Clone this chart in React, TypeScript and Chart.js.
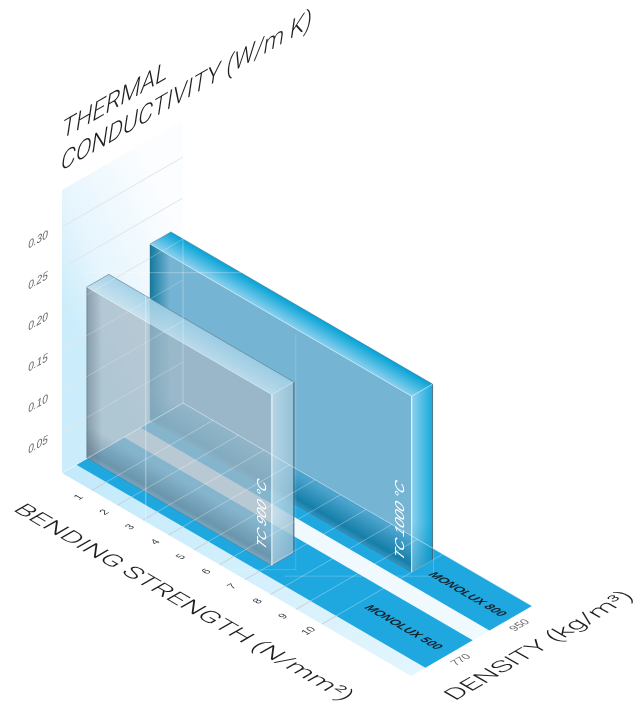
import React, { useEffect, useRef } from "react";
import { Chart, registerables } from "chart.js";

Chart.register(...registerables);

// ---- values ----
const bendingTicks = [1, 2, 3, 4, 5, 6, 7, 8, 9, 10];
const conductivityTicks = [0.05, 0.1, 0.15, 0.2, 0.25, 0.3];
const conductivityLabels = ["0.05", "0.10", "0.15", "0.20", "0.25", "0.30"];
const densityTicks = [770, 950];
const materialNames = ["MONOLUX 500", "MONOLUX 800"];
const stripFrom = [701, 888];
const stripTo = [839, 1012];
const slabNames = ["TC 900 °C", "TC 1000 °C"];
const slabDensityFront = [733, 921];
const slabDensityBack = [797, 982];
const slabBendingStart = [-0.19, -0.24];
const slabBendingEnd = [7.05, 10];
const slabConductivity = [0.2085, 0.2146];

const BEND_MIN = -0.17;
const BEND_MAX = 13.49;
const RHO_MIN = 659;
const RHO_MAX = 1012;
const TC_MAX = 0.345;

type P = { x: number; y: number };

// oblique projection of (bending, density, conductivity) on the page plane
function project(b: number, rho: number, k: number): P {
  const a = (b - BEND_MIN) / (BEND_MAX - BEND_MIN);
  const d = (rho - RHO_MIN) / (RHO_MAX - RHO_MIN);
  return { x: 62 + a * 349 + d * 121, y: 473 + a * 203 - d * 70 - k * 820 };
}

const SANS = '"Liberation Sans", Arial, sans-serif';
const LIGHT = 'Roboto, "Liberation Sans", sans-serif';

type Plane = [number, number, number, number];
const WALL: Plane = [0.866, -0.5, 0, 1];
const FLOOR_RISE: Plane = [0.866, -0.5, 0.866, 0.5];
const FLOOR_FALL: Plane = [0.866, 0.5, -0.866, 0.5];
const FACE: Plane = [0, -1, 0.866, 0.5];

function planeText(
  ctx: CanvasRenderingContext2D,
  text: string,
  x: number,
  y: number,
  plane: Plane,
  font: string,
  color: string,
  opts: { center?: boolean; len?: number } = {}
) {
  ctx.save();
  ctx.translate(x, y);
  ctx.transform(plane[0], plane[1], plane[2], plane[3], 0, 0);
  ctx.font = font;
  ctx.fillStyle = color;
  ctx.textAlign = opts.center ? "center" : "left";
  ctx.textBaseline = opts.center ? "middle" : "alphabetic";
  if (opts.len) ctx.scale(opts.len / ctx.measureText(text).width, 1);
  ctx.fillText(text, 0, 0);
  ctx.restore();
}

const labelsPlugin = {
  id: "planeLabels",
  afterDatasetsDraw(chart: any) {
    const ctx = chart.ctx as CanvasRenderingContext2D;
    conductivityTicks.forEach((k, i) => {
      const p = project(BEND_MIN, RHO_MIN, k);
      planeText(ctx, conductivityLabels[i], p.x - 24, p.y + 13, WALL, `italic 400 11.5px ${SANS}`, "#5c6166", { center: true });
    });
    bendingTicks.forEach((b) => {
      const p = project(b, RHO_MIN, 0);
      planeText(ctx, String(b), p.x - 13, p.y + 7, FLOOR_RISE, `400 10.5px ${SANS}`, "#3c4044", { center: true });
    });
    densityTicks.forEach((r, i) => {
      const p = project(BEND_MAX, r, 0);
      planeText(ctx, String(r), p.x + (i ? 9 : 12), p.y + (i ? 7 : 6), FLOOR_RISE, `400 11px ${SANS}`, "#62666a", { center: true });
    });
    materialNames.forEach((name, i) => {
      planeText(ctx, name, i ? 428 : 364, i ? 575 : 608, FLOOR_FALL, `italic 700 11.5px ${SANS}`, "#15202a", { len: 84 });
    });
    slabNames.forEach((name, i) => {
      const p = project(slabBendingEnd[i], slabDensityFront[i], 0);
      planeText(ctx, name, p.x + (i ? -8 : -6), p.y + (i ? -11 : -15), FACE, `italic 400 15px ${SANS}`, "#ffffff", { len: i ? 77 : 68 });
    });
    planeText(ctx, "THERMAL", 62, 139, WALL, `italic 300 25px ${LIGHT}`, "#1e1e20", { len: 122 });
    planeText(ctx, "CONDUCTIVITY (W/m K)", 61, 171, WALL, `italic 300 25px ${LIGHT}`, "#1e1e20", { len: 290 });
    planeText(ctx, "BENDING STRENGTH (N/mm²)", 12, 510, FLOOR_FALL, `300 22px ${LIGHT}`, "#1e1e20", { len: 383 });
    planeText(ctx, "DENSITY (kg/m³)", 455, 701, FLOOR_RISE, `300 22px ${LIGHT}`, "#1e1e20", { len: 208 });
  },
};

export default function App() {
  const ref = useRef<HTMLCanvasElement>(null);

  useEffect(() => {
    const canvas = ref.current!;
    const ctx = canvas.getContext("2d")!;
    document.body.style.margin = "0";

    const grad = (p0: P, p1: P, stops: [number, string][]) => {
      const g = ctx.createLinearGradient(p0.x, p0.y, p1.x, p1.y);
      stops.forEach(([o, c]) => g.addColorStop(o, c));
      return g;
    };

    const layers: any[] = [];
    const poly = (pts: P[], fill: any, stroke?: string, width = 1) =>
      layers.push({
        data: [...pts, pts[0]],
        showLine: true,
        fill: "shape",
        backgroundColor: fill,
        borderColor: stroke ?? "rgba(0,0,0,0)",
        borderWidth: stroke ? width : 0,
        pointRadius: 0,
        tension: 0,
        clip: false,
      });
    const line = (pts: P[], color: string, width = 1) =>
      layers.push({
        data: pts,
        showLine: true,
        fill: false,
        borderColor: color,
        borderWidth: width,
        pointRadius: 0,
        tension: 0,
        clip: false,
      });

    // back wall
    const wA = project(BEND_MIN, RHO_MIN, 0);
    const wB = project(BEND_MIN, RHO_MAX, 0);
    poly(
      [wA, wB, project(BEND_MIN, RHO_MAX, TC_MAX + 0.0), project(BEND_MIN, RHO_MIN, TC_MAX)],
      grad({ x: wA.x, y: 300 }, { x: wB.x, y: 240 }, [
        [0, "#cbedfb"],
        [0.35, "#e6f5fd"],
        [1, "#fbfdff"],
      ])
    );
    conductivityTicks.forEach((k) =>
      line([project(BEND_MIN, RHO_MIN, k), project(BEND_MIN, RHO_MAX, k)], "#d8e0e3", 1)
    );

    // floor
    const fD = project(BEND_MAX, RHO_MIN, 0);
    const fC = project(BEND_MAX, RHO_MAX, 0);
    const floorGrad = grad(wA, fD, [
      [0, "#c2eafb"],
      [1, "#e3f5fd"],
    ]);
    poly([wA, wB, fC, fD], floorGrad);
    poly(
      [
        project(BEND_MIN, stripTo[0], 0),
        project(BEND_MIN, stripFrom[1], 0),
        project(BEND_MAX, stripFrom[1], 0),
        project(BEND_MAX, stripTo[0], 0),
      ],
      "#f0fafe"
    );
    stripFrom.forEach((from, i) =>
      poly(
        [project(BEND_MIN, from, 0), project(BEND_MIN, stripTo[i], 0), project(BEND_MAX, stripTo[i], 0), project(BEND_MAX, from, 0)],
        "#1fa8e0"
      )
    );
    bendingTicks.forEach((b) =>
      line([project(b, RHO_MIN, 0), project(b, stripFrom[0], 0)], "#b4c2c9", 1)
    );

    // slabs, back one first
    const styles = [
      {
        face: "rgba(165,185,198,0.76)",
        topOut: "rgba(160,207,230,0.9)",
        topIn: "rgba(195,223,236,0.88)",
        sideIn: "rgba(192,219,233,0.85)",
        sideOut: "rgba(155,195,215,0.85)",
        dark: [70, 105, 128],
        bandA: [0.18, 0.42],
        left: "rgba(95,115,130,0.5)",
        edge: "rgba(85,110,125,0.55)",
        rim: "rgba(255,255,255,0.4)",
      },
      {
        face: "rgba(86,163,201,0.81)",
        topOut: "rgba(6,163,214,1)",
        topIn: "rgba(138,208,238,1)",
        sideIn: "rgba(136,207,238,0.95)",
        sideOut: "rgba(10,165,216,0.95)",
        dark: [0, 112, 155],
        bandA: [0.35, 0.72],
        left: "rgba(0,112,150,0.85)",
        edge: "rgba(70,95,110,0.4)",
        rim: "rgba(255,255,255,0.4)",
      },
    ];
    [1, 0].forEach((i) => {
      const s = styles[i];
      const st = slabBendingStart[i];
      const e = slabBendingEnd[i];
      const rf = slabDensityFront[i];
      const rb = slabDensityBack[i];
      const k = slabConductivity[i];
      const fTL = project(st, rf, k);
      const fTR = project(e, rf, k);
      const fBL = project(st, rf, 0);
      const fBR = project(e, rf, 0);
      const bTL = project(st, rb, k);
      const bTR = project(e, rb, k);
      const bBR = project(e, rb, 0);

      // front face
      poly([fTL, fTR, fBR, fBL], s.face);
      // left shade of the front face
      const lw = i ? 20 : 15;
      poly(
        [fTL, { x: fTL.x + lw, y: fTL.y + lw * 0.577 }, { x: fBL.x + lw, y: fBL.y + lw * 0.577 }, fBL],
        grad(fBL, { x: fBL.x + lw, y: fBL.y }, [
          [0, s.left],
          [1, s.left.replace(/[\d.]+\)$/, "0)")],
        ])
      );
      // dark band along the foot of the face
      const h = i ? 32 : 34;
      const [r, g, b] = s.dark;
      const mid = { x: (fBL.x + fBR.x) / 2, y: (fBL.y + fBR.y) / 2 };
      poly(
        [fBL, fBR, { x: fBR.x, y: fBR.y - h }, { x: fBL.x, y: fBL.y - h }],
        grad(mid, { x: mid.x + 0.433 * h, y: mid.y - 0.75 * h }, [
          [0, `rgba(${r},${g},${b},${s.bandA[0]})`],
          [0.2, `rgba(${r},${g},${b},${s.bandA[1]})`],
          [1, `rgba(${r},${g},${b},0)`],
        ])
      );
      // top
      const topMid = { x: (fTL.x + fTR.x) / 2, y: (fTL.y + fTR.y) / 2 };
      poly(
        [fTL, bTL, bTR, fTR],
        grad({ x: topMid.x + 10.5, y: topMid.y - 18 }, topMid, [
          [0, s.topOut],
          [1, s.topIn],
        ])
      );
      // right end
      poly(
        [fTR, bTR, bBR, fBR],
        grad({ x: fTR.x, y: fTR.y }, { x: bTR.x, y: fTR.y }, [
          [0, s.sideIn],
          [1, s.sideOut],
        ])
      );
      poly(
        [{ x: fBR.x, y: fBR.y - 50 }, { x: bBR.x, y: bBR.y - 50 }, bBR, fBR],
        grad({ x: fBR.x, y: fBR.y - 50 }, { x: fBR.x, y: fBR.y }, [
          [0, `rgba(${r},${g},${b},0)`],
          [1, `rgba(${r},${g},${b},${s.bandA[0]})`],
        ])
      );
      // outlines
      line([fBL, fTL, bTL, bTR, bBR, fBR], s.edge, 1);
      line([fBL, fBR], s.edge, 0.8);
      line([fTL, fTR, fBR], s.rim, 1);
      line([fTR, bTR], s.rim, 1);
    });

    // glass grid over everything
    conductivityTicks.forEach((k) =>
      line([project(BEND_MIN, RHO_MIN, k), project(BEND_MIN, RHO_MAX, k)], "rgba(255,255,255,0.25)", 1)
    );
    bendingTicks.forEach((b) =>
      line([project(b, RHO_MIN, 0), project(b, RHO_MAX, 0)], "rgba(255,255,255,0.3)", 1)
    );
    line([wB, fC], "rgba(255,255,255,0.45)", 1);
    line([wA, wB], "rgba(255,255,255,0.45)", 1);
    line([wB, project(BEND_MIN, RHO_MAX, TC_MAX)], "rgba(255,255,255,0.3)", 1);

    // faint glare frames of the glass slabs
    const c1 = project(slabBendingEnd[0], slabDensityBack[0], 0);
    const f1 = project(slabBendingEnd[0], slabDensityFront[0], 0);
    const t1 = project(BEND_MIN, slabDensityBack[0], slabConductivity[0]);
    line(
      [
        { x: c1.x - 148, y: t1.y - 2 },
        { x: c1.x - 148, y: f1.y + 4 },
        { x: c1.x + 2, y: f1.y + 4 },
        { x: c1.x + 2, y: t1.y + 60 },
      ],
      "rgba(255,255,255,0.16)",
      1
    );
    line([{ x: t1.x - 25, y: t1.y - 2 }, { x: t1.x + 132, y: t1.y - 2 }], "rgba(255,255,255,0.3)", 1);
    const c2 = project(slabBendingEnd[1], slabDensityBack[1], 0);
    const f2 = project(slabBendingEnd[1], slabDensityFront[1], 0);
    line(
      [
        { x: c2.x - 148, y: f2.y + 4 },
        { x: c2.x + 1, y: f2.y + 4 },
        { x: c2.x + 1, y: c2.y - 170 },
      ],
      "rgba(255,255,255,0.2)",
      1
    );

    const n = layers.length;
    const datasets = layers.map((l, i) => ({ ...l, order: n - i }));

    const chart = new Chart(canvas, {
      type: "scatter",
      data: { datasets },
      options: {
        animation: false,
        responsive: false,
        events: [],
        layout: { padding: 0 },
        plugins: { legend: { display: false }, tooltip: { enabled: false }, title: { display: false } },
        scales: {
          x: { type: "linear", min: 0, max: 633, display: false },
          y: { type: "linear", min: 0, max: 704, reverse: true, display: false },
        },
      },
      plugins: [labelsPlugin],
    } as any);
    return () => chart.destroy();
  }, []);

  return (
    <div style={{ position: "absolute", left: 0, top: 0, width: 633, height: 704 }}>
      <canvas ref={ref} width={633} height={704} style={{ display: "block", width: 633, height: 704 }} />
    </div>
  );
}
